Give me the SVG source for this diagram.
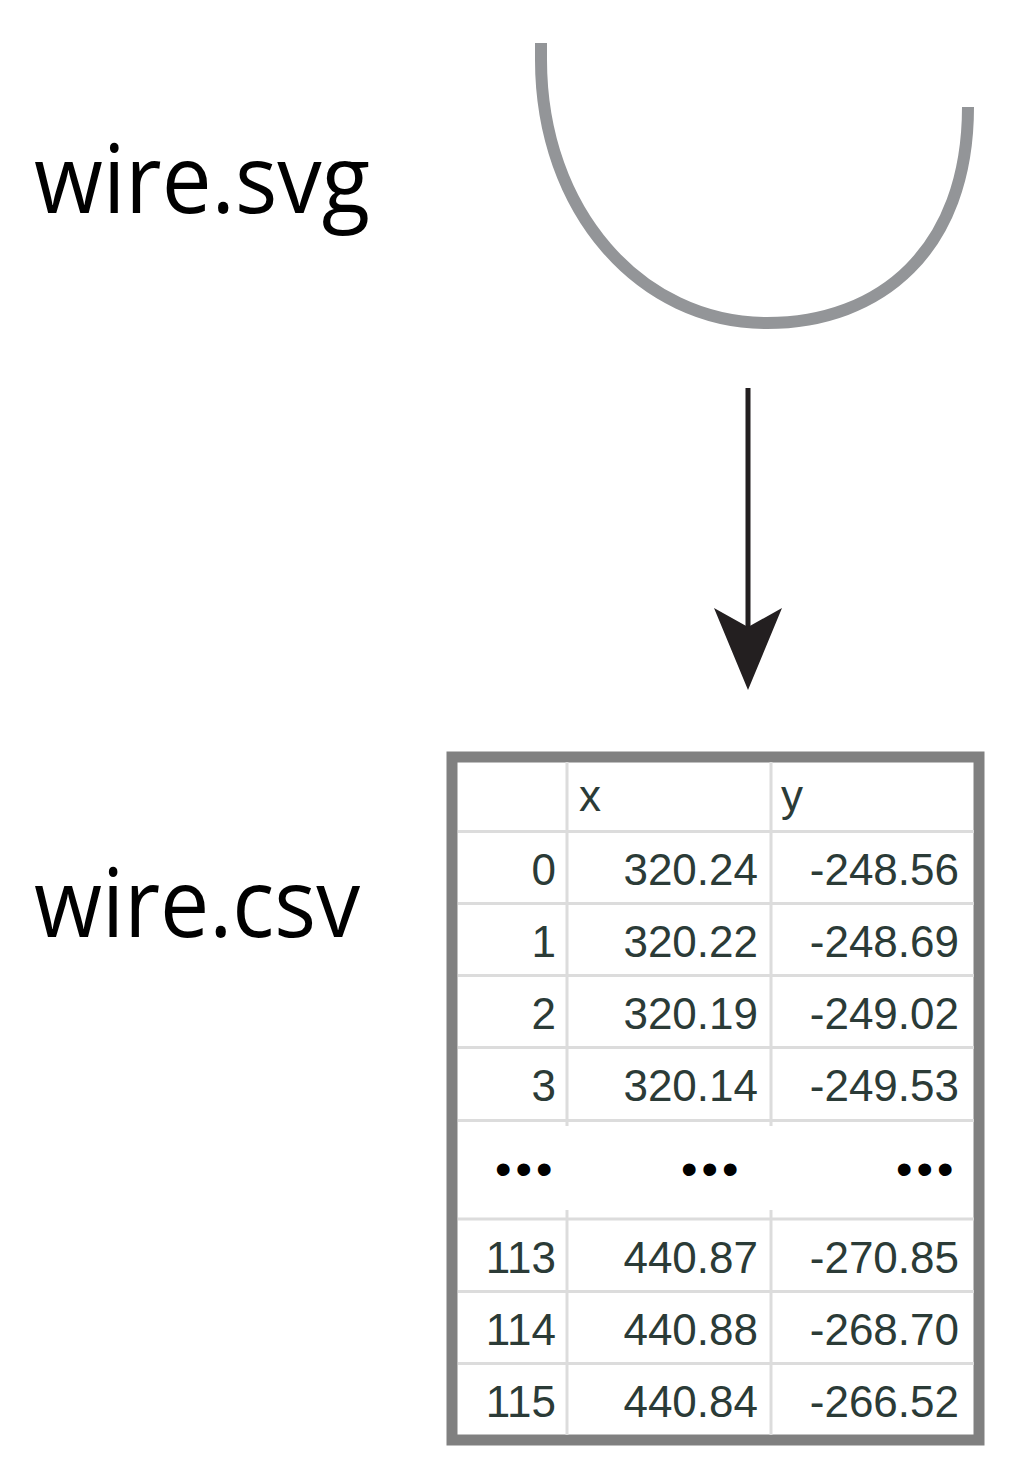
<svg xmlns="http://www.w3.org/2000/svg" width="1017" height="1479" viewBox="0 0 1017 1479">
<style>
.lbl{font-family:"Open Sans","Noto Sans",sans-serif;font-size:96px;fill:#000}
.cell{font-family:"Liberation Sans",Arial,sans-serif;font-size:44px;fill:#2b3b37}
.r{text-anchor:end}
.dots{font-family:"Liberation Sans",Arial,sans-serif;font-size:47px;fill:#000;letter-spacing:4px}
.grid{stroke:#dcdcdc;stroke-width:3;fill:none}
</style>
<rect width="1017" height="1479" fill="#fff"/>
<g id="wire-svg">
<text class="lbl" x="34" y="213" textLength="336" lengthAdjust="spacingAndGlyphs">wire.svg</text>
<path d="M541,43 L541,60 C541,210 640,323 767,323 C880,323 968,250 968,107" fill="none" stroke="#939598" stroke-width="12"/>
</g>
<g id="connectors">
<line x1="748" y1="388" x2="748" y2="630" stroke="#231f20" stroke-width="5"/>
<path d="M714,608 L748,627 L782,608 L748,690 Z" fill="#231f20"/>
</g>
<g id="wire-csv">
<text class="lbl" x="34" y="937" textLength="326" lengthAdjust="spacingAndGlyphs">wire.csv</text>
<rect x="452" y="757" width="527" height="683" fill="#fff" stroke="#808080" stroke-width="11"/>
<g class="grid">
<line x1="458" y1="831.5" x2="974" y2="831.5"/>
<line x1="458" y1="903.5" x2="974" y2="903.5"/>
<line x1="458" y1="975.5" x2="974" y2="975.5"/>
<line x1="458" y1="1047.5" x2="974" y2="1047.5"/>
<line x1="458" y1="1120.5" x2="974" y2="1120.5"/>
<line x1="458" y1="1219" x2="974" y2="1219"/>
<line x1="458" y1="1291.5" x2="974" y2="1291.5"/>
<line x1="458" y1="1363.5" x2="974" y2="1363.5"/>
<line x1="567" y1="762" x2="567" y2="1126"/>
<line x1="771" y1="762" x2="771" y2="1126"/>
<line x1="567" y1="1210" x2="567" y2="1435"/>
<line x1="771" y1="1210" x2="771" y2="1435"/>
</g>
<text class="cell" x="579" y="811">x</text>
<text class="cell" x="781" y="811">y</text>
<text class="cell r" x="556" y="885">0</text>
<text class="cell r" x="758" y="885">320.24</text>
<text class="cell r" x="959" y="885">-248.56</text>
<text class="cell r" x="556" y="957">1</text>
<text class="cell r" x="758" y="957">320.22</text>
<text class="cell r" x="959" y="957">-248.69</text>
<text class="cell r" x="556" y="1029">2</text>
<text class="cell r" x="758" y="1029">320.19</text>
<text class="cell r" x="959" y="1029">-249.02</text>
<text class="cell r" x="556" y="1101">3</text>
<text class="cell r" x="758" y="1101">320.14</text>
<text class="cell r" x="959" y="1101">-249.53</text>
<text class="dots" x="495" y="1185">•••</text>
<text class="dots" x="681" y="1185">•••</text>
<text class="dots" x="896" y="1185">•••</text>
<text class="cell r" x="556" y="1273">113</text>
<text class="cell r" x="758" y="1273">440.87</text>
<text class="cell r" x="959" y="1273">-270.85</text>
<text class="cell r" x="556" y="1345">114</text>
<text class="cell r" x="758" y="1345">440.88</text>
<text class="cell r" x="959" y="1345">-268.70</text>
<text class="cell r" x="556" y="1417">115</text>
<text class="cell r" x="758" y="1417">440.84</text>
<text class="cell r" x="959" y="1417">-266.52</text>
</g>
</svg>
